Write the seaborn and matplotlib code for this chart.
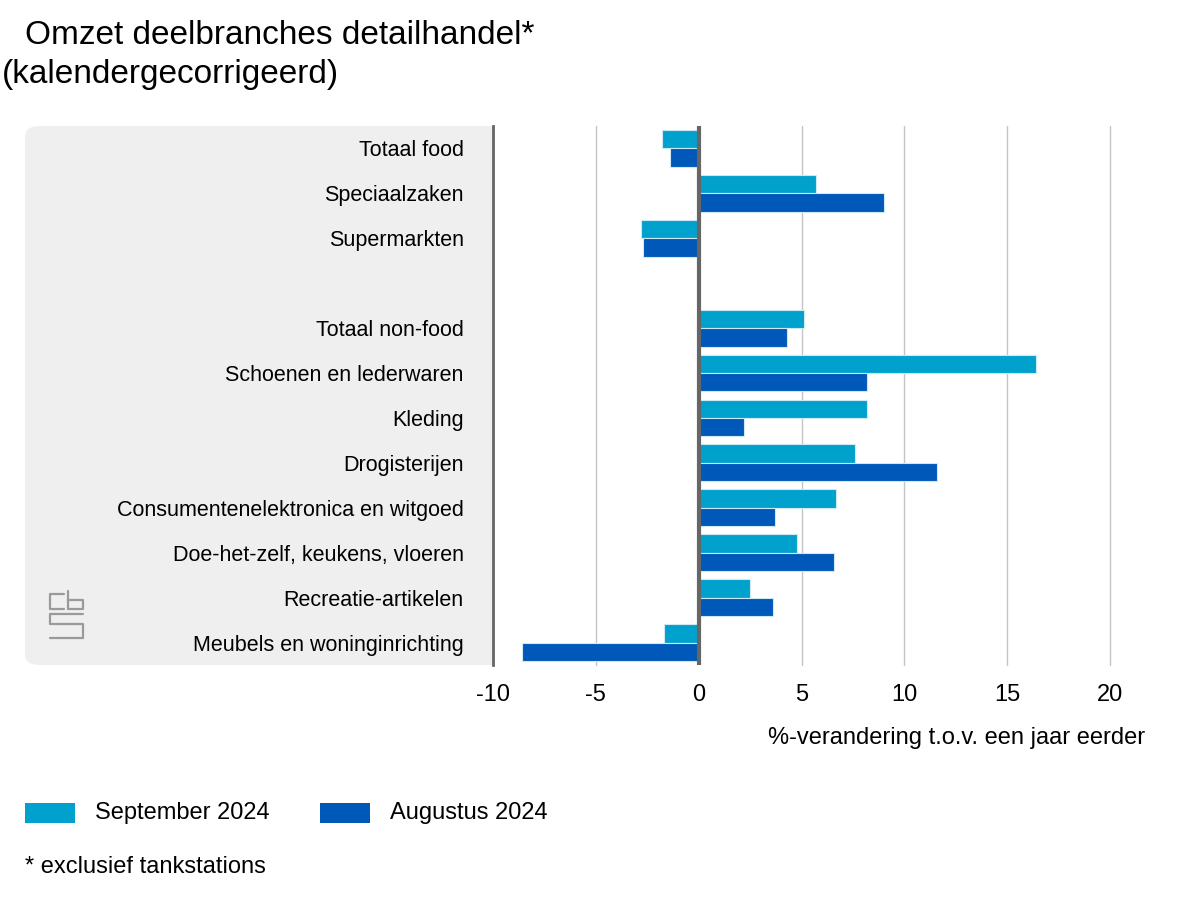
"""Omzet deelbranches detailhandel (CBS) - horizontal grouped bars."""

import matplotlib.pyplot as plt
import numpy as np
import pandas as pd
import seaborn as sns
from matplotlib.patches import FancyBboxPatch, Rectangle
from matplotlib.lines import Line2D

categories = [
    "Totaal food", "Speciaalzaken", "Supermarkten", " ",
    "Totaal non-food", "Schoenen en lederwaren", "Kleding", "Drogisterijen",
    "Consumentenelektronica en witgoed", "Doe-het-zelf, keukens, vloeren",
    "Recreatie-artikelen", "Meubels en woninginrichting",
]
september_2024 = [-1.8, 5.7, -2.8, np.nan, 5.1, 16.4, 8.2, 7.6, 6.7, 4.8, 2.5, -1.7]
augustus_2024 = [-1.4, 9.0, -2.7, np.nan, 4.3, 8.2, 2.2, 11.6, 3.7, 6.6, 3.6, -8.6]
series_names = ["September 2024", "Augustus 2024"]
colors = ["#00a1cd", "#0058b8"]
xticks = [-10, -5, 0, 5, 10, 15, 20]

df = pd.DataFrame({
    "categorie": categories * 2,
    "waarde": september_2024 + augustus_2024,
    "periode": [series_names[0]] * len(categories) + [series_names[1]] * len(categories),
})

sns.set_style("white")
plt.rcParams["font.family"] = ["Liberation Sans", "DejaVu Sans"]
plt.rcParams["text.color"] = "black"
plt.rcParams["xtick.color"] = "black"
plt.rcParams["ytick.color"] = "black"

W, H = 1200, 900
fig = plt.figure(figsize=(12, 9), dpi=100)

# gray label panel behind the category names
panel = FancyBboxPatch((25 / W, 1 - 665 / H), (493 - 25) / W + 0.02, (665 - 126) / H,
                       boxstyle="round,pad=0,rounding_size=0.012",
                       transform=fig.transFigure, facecolor="#efefef",
                       edgecolor="none", zorder=0)
fig.patches.append(panel)

ax = fig.add_axes([493 / W, 1 - 665 / H, (1110 - 493) / W, (665 - 126) / H])
ax.set_zorder(1)

sns.barplot(data=df, y="categorie", x="waarde", hue="periode", order=categories,
            hue_order=series_names, palette=colors, saturation=1, orient="h",
            width=0.82, edgecolor="#cfe9f4", linewidth=0.8, ax=ax, legend=False,
            zorder=3)

ax.set_facecolor("white")
ax.set_xlim(-10, 20)
ax.set_xticks(xticks)
ax.set_xticklabels([str(t) for t in xticks], fontsize=17)
ax.tick_params(axis="x", length=0, pad=14)
ax.tick_params(axis="y", length=0, pad=21, labelsize=15.5)
ax.set_xlabel("")
ax.set_ylabel("")

for t in xticks[1:]:
    if t != 0:
        ax.axvline(t, color="#c4c4c4", linewidth=1, zorder=1, clip_on=False)
ax.axvline(0, color="#666666", linewidth=3, zorder=4)

for side in ["top", "right", "bottom"]:
    ax.spines[side].set_visible(False)
ax.spines["left"].set_color("#666666")
ax.spines["left"].set_linewidth(2)

# titles and texts
fig.text(25 / W, 1 - 35 / H, "Omzet deelbranches detailhandel*", fontsize=24,
         va="center", ha="left")
fig.text(2 / W, 1 - 75 / H, "(kalendergecorrigeerd)", fontsize=24,
         va="center", ha="left")
fig.text(1145 / W, 1 - 738 / H, "%-verandering t.o.v. een jaar eerder",
         fontsize=17, va="center", ha="right")

# legend
legend_x = [25, 320]
for x0, name, c in zip(legend_x, series_names, colors):
    fig.patches.append(Rectangle((x0 / W, 1 - 823 / H), 50 / W, 20 / H,
                                 transform=fig.transFigure, facecolor=c,
                                 edgecolor="none"))
    fig.text((x0 + 70) / W, 1 - 813 / H, name, fontsize=17, va="center", ha="left")
fig.text(25 / W, 1 - 867 / H, "* exclusief tankstations", fontsize=17,
         va="center", ha="left")

# simple cbs logo sketch
def px_line(xs, ys):
    fig.add_artist(Line2D([x / W for x in xs], [1 - y / H for y in ys],
                          color="#9a9a9a", linewidth=1.6, transform=fig.transFigure))

px_line([64, 50, 50, 64], [594, 594, 609, 609])
px_line([68, 68, 83, 83, 68], [591, 609, 609, 600, 600])
px_line([83, 50, 50, 83, 83, 50], [614, 614, 624, 624, 638, 638])

fig.savefig("out.png", dpi=100)
plt.close(fig)
